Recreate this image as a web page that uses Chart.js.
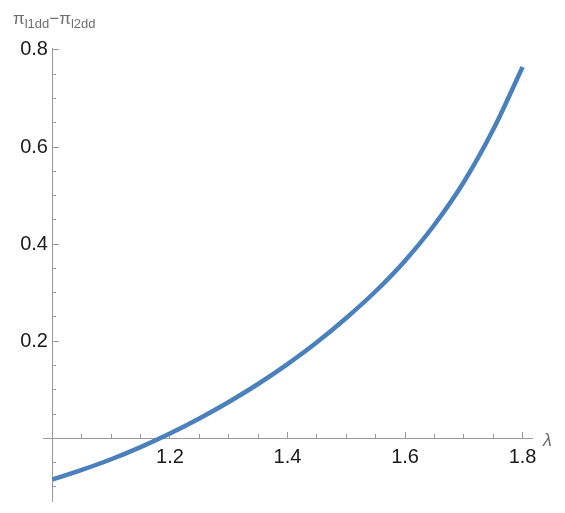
<!DOCTYPE html>
<html>
<head>
<meta charset="utf-8">
<script src="https://cdn.jsdelivr.net/npm/chart.js@4.4.1/dist/chart.umd.min.js"></script>
<style>
  html, body { margin: 0; padding: 0; background: #ffffff; }
  #wrap { position: relative; width: 565px; height: 513px; }
  #c { position: absolute; left: 0; top: 0; }
  .lbl { position: absolute; color: #6e6e6e; font-family: "Liberation Sans Narrow", "Liberation Sans", Arial, sans-serif; white-space: nowrap; }
  #ylab { left: 13px; top: 9px; font-size: 17px; }
  #ylab sub { font-size: 13px; vertical-align: -4px; }
  #xlab { left: 543px; top: 430px; font-size: 18px; font-style: italic; }
</style>
</head>
<body>
<div id="wrap">
  <canvas id="c" width="565" height="513"></canvas>
  <div class="lbl" id="ylab">π<sub>l1dd</sub>−π<sub>l2dd</sub></div>
  <div class="lbl" id="xlab">λ</div>
</div>
<script>
// ---- data ----
const lambdaValues = [1.00, 1.05, 1.10, 1.15, 1.20, 1.25, 1.30, 1.35, 1.40, 1.45, 1.50, 1.55, 1.60, 1.65, 1.70, 1.75, 1.80];
const diffValues   = [-0.085, -0.065, -0.043, -0.018, 0.010, 0.041, 0.075, 0.112, 0.153, 0.198, 0.248, 0.303, 0.366, 0.440, 0.528, 0.636, 0.765];

// ---- tick positions / labels ----
const xMajorTicks = [1.2, 1.4, 1.6, 1.8];
const xTickLabels = ['1.2', '1.4', '1.6', '1.8'];
const xMinorTicks = [1.05, 1.1, 1.15, 1.25, 1.3, 1.35, 1.45, 1.5, 1.55, 1.65, 1.7, 1.75];
const yMajorTicks = [0.2, 0.4, 0.6, 0.8];
const yTickLabels = ['0.2', '0.4', '0.6', '0.8'];
const yMinorTicks = [-0.1, -0.05, 0.05, 0.1, 0.15, 0.25, 0.3, 0.35, 0.45, 0.5, 0.55, 0.65, 0.7, 0.75];

// plot range (with Mathematica-style padding) and axes origin
const xMin = 0.984, xMax = 1.816;
const yMin = -0.129, yMax = 0.804;
const originX = 1.0, originY = 0;
const yLabelAnchor = 0.9925;

const axisColor = '#9a9a9a';
const tickFont = { family: '"Liberation Sans Narrow", "Liberation Sans", Arial, sans-serif', size: 20 };

function setTicks(list) {
  return function (scale) { scale.ticks = list.map(v => ({ value: v })); };
}
function zeroHeight(scale) { scale.height = 0; }
function zeroWidth(scale) { scale.width = 0; }

const data = lambdaValues.map((x, i) => ({ x: x, y: diffValues[i] }));

new Chart(document.getElementById('c'), {
  type: 'line',
  data: {
    datasets: [{
      data: data,
      xAxisID: 'x',
      yAxisID: 'y',
      borderColor: '#4a81bd',
      borderWidth: 4.5,
      pointRadius: 0,
      fill: false,
      cubicInterpolationMode: 'monotone',
      borderCapStyle: 'butt'
    }]
  },
  options: {
    responsive: false,
    animation: false,
    devicePixelRatio: 1,
    layout: { padding: { left: 43, right: 33, top: 48, bottom: 10 } },
    plugins: { legend: { display: false }, tooltip: { enabled: false }, title: { display: false } },
    scales: {
      x: {
        type: 'linear', axis: 'x', min: xMin, max: xMax,
        position: { y: originY },
        afterBuildTicks: setTicks(xMajorTicks),
        afterFit: zeroHeight,
        grid: { drawOnChartArea: false, tickLength: -7, color: axisColor, tickColor: axisColor, lineWidth: 1 },
        border: { display: true, color: axisColor, width: 1 },
        ticks: {
          autoSkip: false, maxRotation: 0, minRotation: 0, padding: 14, color: '#1a1a1a', font: tickFont,
          callback: function (v) { const i = xMajorTicks.findIndex(t => Math.abs(t - v) < 1e-9); return i >= 0 ? xTickLabels[i] : ''; }
        }
      },
      xm: {
        type: 'linear', axis: 'x', min: xMin, max: xMax,
        position: { y: originY },
        afterBuildTicks: setTicks(xMinorTicks),
        afterFit: zeroHeight,
        grid: { drawOnChartArea: false, tickLength: -4, color: axisColor, tickColor: axisColor, lineWidth: 1 },
        border: { display: false },
        ticks: { display: false }
      },
      y: {
        type: 'linear', axis: 'y', min: yMin, max: yMax,
        position: { x: originX },
        afterBuildTicks: setTicks(yMajorTicks),
        afterFit: zeroWidth,
        grid: { drawOnChartArea: false, tickLength: -7, color: axisColor, tickColor: axisColor, lineWidth: 1 },
        border: { display: true, color: axisColor, width: 1 },
        ticks: { display: false }
      },
      ym: {
        type: 'linear', axis: 'y', min: yMin, max: yMax,
        position: { x: originX },
        afterBuildTicks: setTicks(yMinorTicks),
        afterFit: zeroWidth,
        grid: { drawOnChartArea: false, tickLength: -4, color: axisColor, tickColor: axisColor, lineWidth: 1 },
        border: { display: false },
        ticks: { display: false }
      },
      yl: {
        type: 'linear', axis: 'y', min: yMin, max: yMax,
        position: { x: yLabelAnchor },
        afterBuildTicks: setTicks(yMajorTicks),
        afterFit: zeroWidth,
        grid: { display: false },
        border: { display: false },
        ticks: {
          autoSkip: false, padding: 0, color: '#1a1a1a', font: tickFont,
          callback: function (v) { const i = yMajorTicks.findIndex(t => Math.abs(t - v) < 1e-9); return i >= 0 ? yTickLabels[i] : ''; }
        }
      }
    }
  }
});
</script>
</body>
</html>
